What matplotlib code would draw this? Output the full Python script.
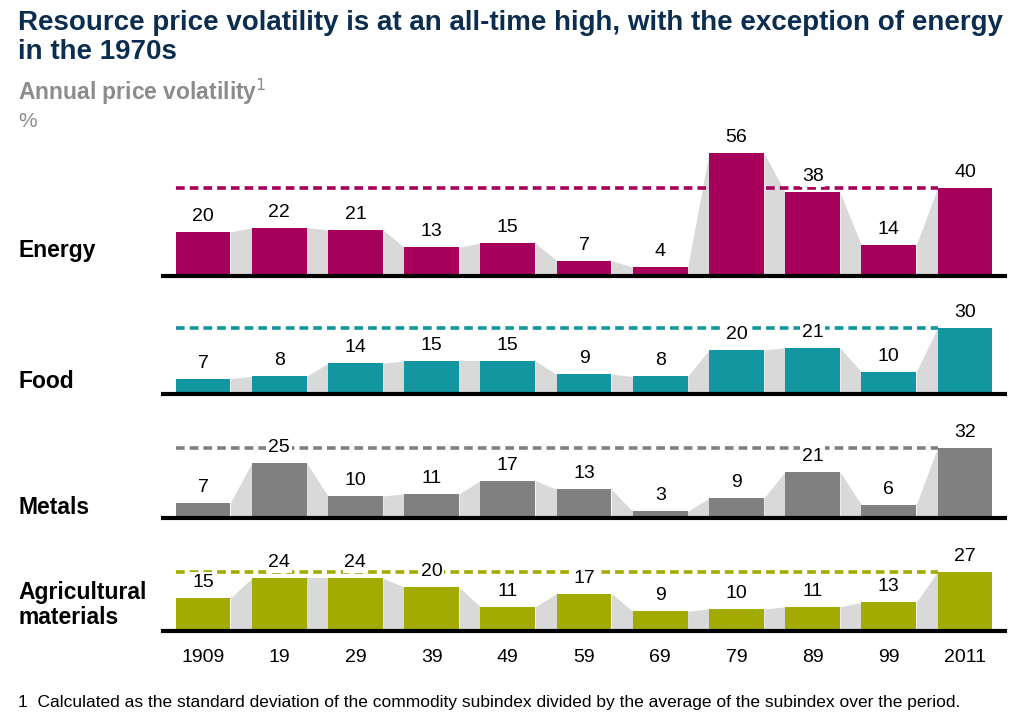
import matplotlib.pyplot as plt

plt.rcParams['font.family'] = ['Liberation Sans', 'DejaVu Sans']

# data
years = ['1909', '19', '29', '39', '49', '59', '69', '79', '89', '99', '2011']
energy = [20, 22, 21, 13, 15, 7, 4, 56, 38, 14, 40]
food = [7, 8, 14, 15, 15, 9, 8, 20, 21, 10, 30]
metals = [7, 25, 10, 11, 17, 13, 3, 9, 21, 6, 32]
agri = [15, 24, 24, 20, 11, 17, 9, 10, 11, 13, 27]

# name, values, colour, baseline px, label centre px
panels = [
    ('Energy', energy, '#A6005A', 276, 250),
    ('Food', food, '#12969F', 394, 381),
    ('Metals', metals, '#808080', 518, 508),
    ('Agricultural\nmaterials', agri, '#A2AC00', 631, 605),
]

W, H = 1023, 720
fig = plt.figure(figsize=(W / 100, H / 100), dpi=100)

x_left, x_right = 163, 1005
px_per_unit = 2.2
ymax = 62
bar_w = 0.72
x = list(range(len(years)))

for name, vals, color, base, lab_y in panels:
    h = ymax * px_per_unit
    ax = fig.add_axes([x_left / W, 1 - base / H, (x_right - x_left) / W, h / H])
    ax.patch.set_visible(False)
    ax.set_xlim(-0.525, 10.525)
    ax.set_ylim(0, ymax)
    ax.axis('off')

    # grey connectors between bars
    for i in range(len(vals) - 1):
        ax.fill_between([i + bar_w / 2, i + 1 - bar_w / 2], [vals[i], vals[i + 1]],
                        0, color='#D9D9D9', lw=0, zorder=1)
    ax.bar(x, vals, width=bar_w, color=color, zorder=3)

    # dashed reference line at latest value
    ax.plot([-bar_w / 2, 10 - bar_w / 2], [vals[-1], vals[-1]], color=color, lw=2.6,
            dashes=(2.4, 1.4), zorder=2)
    ax.axhline(0, color='black', lw=3, zorder=4, clip_on=False)

    for xi, v in zip(x, vals):
        ax.annotate(str(v), (xi, v), xytext=(0, 5), textcoords='offset points',
                    ha='center', va='bottom', fontsize=14, zorder=5,
                    bbox=dict(boxstyle='square,pad=0.1', fc='white', ec='none'))

    fig.text(18 / W, 1 - lab_y / H, name, fontsize=16.5, fontweight='bold',
             ha='left', va='center', linespacing=1.1)

# year labels
for xi, yr in zip(x, years):
    xp = x_left + (xi + 0.525) / 11.05 * (x_right - x_left)
    fig.text(xp / W, 1 - 657 / H, yr, fontsize=14, ha='center', va='center')

fig.text(18 / W, 1 - 10 / H, 'Resource price volatility is at an all-time high, with the exception of energy\nin the 1970s',
         fontsize=20, fontweight='bold', color='#0A2D50', ha='left', va='top',
         linespacing=1.15)
fig.text(18 / W, 1 - 100 / H, 'Annual price volatility$^{1}$', fontsize=16.5, fontweight='bold',
         color='#8C8C8C', ha='left', va='baseline')
fig.text(18 / W, 1 - 127 / H, '%', fontsize=15, color='#8C8C8C', ha='left', va='baseline')
fig.text(18 / W, 1 - 703 / H,
         '1  Calculated as the standard deviation of the commodity subindex divided by the average of the subindex over the period.',
         fontsize=12.5, ha='left', va='center')

fig.savefig('out.png', dpi=100)
